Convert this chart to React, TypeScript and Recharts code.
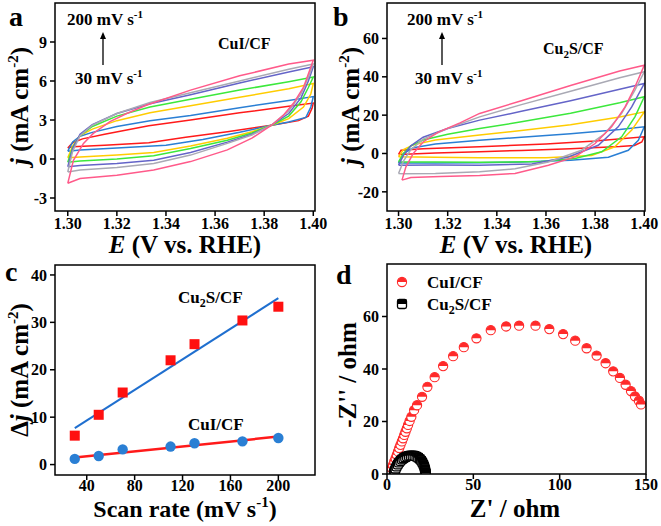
import { LineChart, Line, XAxis, YAxis, ComposedChart, Scatter, ScatterChart } from 'recharts';

const SERIF = '"Liberation Serif", "Times New Roman", serif';

// scan rates shared by all CV loops (mV/s), and their colours
const scanRates = [30, 50, 70, 110, 130, 170, 200];
const cvColors = ['#ff1a1a', '#2a7fd4', '#ffcc00', '#3ce83c', '#6464c8', '#a9a9b4', '#ff5a8a'];
const eTicks = [1.3, 1.32, 1.34, 1.36, 1.38, 1.4];

// panel a: CuI/CF cyclic voltammograms, [E, j] (forward sweep then return)
const cuiCv30 = [[1.3, 0.85], [1.302, 1.25], [1.306, 1.55], [1.315, 1.9], [1.333, 2.55], [1.35, 3.0], [1.37, 3.55], [1.39, 4.05], [1.4, 4.3], [1.3995, 3.9], [1.398, 3.3], [1.394, 2.95], [1.383, 2.6], [1.365, 2.1], [1.348, 1.67], [1.333, 1.25], [1.315, 1.05], [1.302, 0.95], [1.3, 0.85]];
const cuiCv50 = [[1.3, 0.6], [1.302, 1.3], [1.305, 1.75], [1.31, 2.05], [1.32, 2.5], [1.3335, 2.95], [1.35, 3.35], [1.37, 3.95], [1.39, 4.5], [1.4, 4.8], [1.399, 4.0], [1.397, 3.2], [1.39, 2.85], [1.383, 2.6], [1.37, 2.05], [1.355, 1.5], [1.34, 1.05], [1.32, 0.85], [1.305, 0.7], [1.3, 0.6]];
const cuiCv70 = [[1.3, 0.1], [1.302, 1.0], [1.305, 1.8], [1.31, 2.3], [1.32, 2.95], [1.3335, 3.56], [1.35, 4.1], [1.37, 4.75], [1.39, 5.4], [1.4, 5.8], [1.399, 5.0], [1.396, 4.0], [1.39, 3.1], [1.383, 2.6], [1.375, 2.1], [1.365, 1.6], [1.35, 1.0], [1.335, 0.5], [1.32, 0.3], [1.305, 0.15], [1.3, 0.1]];
const cuiCv110 = [[1.3, -0.25], [1.302, 0.9], [1.305, 1.8], [1.31, 2.5], [1.32, 3.3], [1.3335, 4.0], [1.35, 4.6], [1.37, 5.3], [1.39, 5.95], [1.4, 6.3], [1.398, 5.5], [1.395, 4.4], [1.39, 3.3], [1.383, 2.6], [1.375, 2.0], [1.365, 1.45], [1.35, 0.8], [1.335, 0.25], [1.32, 0.0], [1.305, -0.15], [1.3, -0.25]];
const cuiCv130 = [[1.3, -0.6], [1.302, 0.8], [1.305, 1.9], [1.31, 2.65], [1.32, 3.5], [1.3335, 4.25], [1.35, 4.95], [1.37, 5.85], [1.39, 6.7], [1.4, 7.1], [1.398, 6.0], [1.395, 4.7], [1.39, 3.5], [1.383, 2.6], [1.375, 1.9], [1.365, 1.3], [1.35, 0.5], [1.335, -0.1], [1.32, -0.35], [1.305, -0.5], [1.3, -0.6]];
const cuiCv170 = [[1.3, -1.0], [1.302, 0.6], [1.305, 1.8], [1.31, 2.6], [1.32, 3.5], [1.3335, 4.35], [1.35, 5.1], [1.37, 6.0], [1.39, 6.9], [1.4, 7.3], [1.398, 6.3], [1.395, 5.0], [1.39, 3.7], [1.383, 2.6], [1.375, 1.85], [1.365, 1.2], [1.35, 0.3], [1.335, -0.35], [1.32, -0.65], [1.305, -0.85], [1.3, -1.0]];
const cuiCv200 = [[1.3, -1.87], [1.3023, -0.1], [1.3064, 1.2], [1.3104, 1.97], [1.3172, 2.87], [1.324, 3.5], [1.3322, 4.15], [1.35, 5.3], [1.37, 6.4], [1.39, 7.3], [1.4, 7.6], [1.3985, 6.8], [1.396, 5.5], [1.392, 4.3], [1.388, 3.4], [1.383, 2.6], [1.375, 1.6], [1.365, 0.7], [1.35, -0.2], [1.335, -0.85], [1.32, -1.25], [1.305, -1.5], [1.3, -1.87]];

// panel b: Cu2S/CF cyclic voltammograms
const cusCv30 = [[1.3, -0.5], [1.301, 1.7], [1.31, 2.5], [1.333, 3.5], [1.36, 5.0], [1.38, 6.5], [1.4, 8.7], [1.399, 6.0], [1.396, 4.2], [1.39, 3.6], [1.37, 2.5], [1.35, 1.6], [1.333, 0.9], [1.315, 0.2], [1.3, -0.5]];
const cusCv50 = [[1.3, -5.0], [1.302, 0], [1.306, 3], [1.315, 5], [1.333, 6.9], [1.35, 8.5], [1.37, 10.3], [1.39, 12.5], [1.4, 13.9], [1.3976, 6.9], [1.3935, 1.7], [1.3854, -2.0], [1.37, -3.5], [1.35, -4.5], [1.333, -4.8], [1.315, -5.0], [1.3, -5.0]];
const cusCv70 = [[1.3, -1.7], [1.302, 2], [1.306, 4.5], [1.315, 7], [1.333, 9.6], [1.35, 12], [1.37, 15], [1.39, 19], [1.4, 21.7], [1.3949, 12.2], [1.388, 3.5], [1.3786, -1.0], [1.36, -2.2], [1.333, -2.2], [1.315, -2.0], [1.3, -1.7]];
const cusCv110 = [[1.3, -4.4], [1.302, 0], [1.305, 4], [1.31, 7], [1.32, 10], [1.333, 13], [1.35, 16.5], [1.37, 21], [1.39, 26.5], [1.4, 29.6], [1.3962, 19.1], [1.3908, 8.7], [1.3827, 0.9], [1.3718, -2.6], [1.358, -4.2], [1.333, -4.6], [1.315, -4.5], [1.3, -4.4]];
const cusCv130 = [[1.3, -6.1], [1.302, -1], [1.305, 4], [1.31, 8.5], [1.32, 13], [1.333, 17.4], [1.35, 22], [1.37, 27.5], [1.39, 33.5], [1.4, 36.5], [1.3949, 24.3], [1.3894, 13.9], [1.3813, 4.3], [1.3691, -1.8], [1.3542, -5.5], [1.333, -6.1], [1.315, -6.0], [1.3, -6.1]];
const cusCv170 = [[1.3, -10.4], [1.302, -4], [1.305, 2], [1.31, 7.5], [1.32, 13], [1.333, 19.1], [1.35, 25.5], [1.37, 32.5], [1.39, 39.5], [1.4, 42.6], [1.3962, 33], [1.3908, 20.9], [1.384, 10.4], [1.3745, 1.7], [1.361, -4.4], [1.3474, -8.0], [1.333, -9.5], [1.315, -10.4], [1.302, -10.6], [1.3, -10.4]];
const cusCv200 = [[1.3014, -13.9], [1.303, -7], [1.306, 0], [1.31, 6], [1.316, 11], [1.325, 16], [1.333, 20.9], [1.35, 27.5], [1.37, 35.5], [1.39, 43], [1.4, 46], [1.3962, 34.7], [1.3922, 24.3], [1.3867, 13.9], [1.38, 5.2], [1.3718, -1.8], [1.361, -6.1], [1.3474, -10.4], [1.333, -11.5], [1.317, -12], [1.305, -12.5], [1.3014, -13.9]];

// panel c: delta j vs scan rate
const cusDeltaJ = [6.1, 10.5, 15.2, 22.0, 25.4, 30.4, 33.3];
const cuiDeltaJ = [1.2, 1.8, 3.2, 3.8, 4.5, 4.9, 5.6];
const cusFit = [[30, 7.7], [200, 35.1]];
const cuiFit = [[30, 1.5], [200, 5.9]];

// panel d: Nyquist plots, [Z', -Z'']
const cuiEis = [[2.1, 1.0], [2.8, 2.2], [3.5, 3.5], [4.2, 4.8], [5.0, 6.0], [5.7, 7.3], [6.4, 8.6], [7.1, 9.9], [7.8, 11.1], [8.6, 12.4], [9.3, 13.6], [10.0, 14.9], [10.7, 16.1], [11.5, 17.4], [12.2, 18.7], [13.1, 20.2], [14.1, 21.8], [15.7, 24.3], [17.4, 26.2], [20.3, 29.4], [23.4, 33.2], [27.6, 36.9], [32.5, 41.1], [38.3, 44.9], [44.5, 48.3], [51.8, 51.7], [60.1, 54.8], [69, 56.2], [76.5, 56.5], [86, 56.5], [94, 55.2], [102, 53.3], [109, 50.8], [115.6, 47.9], [121.4, 45.1], [126.6, 42.2], [131, 39.1], [134.9, 36.6], [138.2, 34], [141.3, 31.6], [143.6, 29.6], [145.9, 27.9], [147.1, 26.5]];
const cusEis = [[4.0, 0.3], [4.5, 1.2], [5.0, 2.1], [5.6, 2.9], [6.3, 3.7], [7.0, 4.4], [7.8, 5.0], [8.7, 5.6], [9.6, 6.0], [10.6, 6.4], [11.6, 6.7], [12.7, 6.9], [13.8, 7.0], [14.9, 7.0], [16.0, 6.9], [17.1, 6.6], [18.1, 6.2], [19.0, 5.7], [19.8, 5.1], [20.5, 4.4], [21.1, 3.6], [21.6, 2.7], [22.0, 1.8], [22.3, 0.9], [22.5, 0.2]];

const tickStyle = { fontFamily: SERIF, fontWeight: 700, fontSize: 16, fill: '#000' };
const tickLine = { stroke: '#000', strokeWidth: 1.5 };

const toEj = (loop: number[][]) => loop.map(([E, j]) => ({ E, j }));
const toXY = (pts: number[][]) => pts.map(([x, y]) => ({ x, y }));

function CvPanel({ left, width, yWidth, mRight, xDomain, yDomain, yTicks, loops }: any) {
  return (
    <div style={{ position: 'absolute', left, top: 0 }}>
      <LineChart width={width} height={265} margin={{ top: 3, right: mRight, bottom: 0, left: 0 }}>
        <XAxis dataKey="E" type="number" domain={xDomain} ticks={eTicks} allowDataOverflow interval={0}
          tickFormatter={(v: number) => v.toFixed(2)} height={54} axisLine={false} tickLine={tickLine}
          tickSize={5} tickMargin={2} tick={tickStyle} />
        <YAxis type="number" domain={yDomain} ticks={yTicks} allowDataOverflow interval={0} width={yWidth}
          axisLine={false} tickLine={tickLine} tickSize={5} tickMargin={3} tick={tickStyle} />
        {loops.map((loop: number[][], i: number) => (
          <Line key={scanRates[i]} data={toEj(loop)} dataKey="j" type="linear" stroke={cvColors[i]}
            strokeWidth={1.5} dot={false} isAnimationActive={false} />
        ))}
      </LineChart>
    </div>
  );
}

const RedSquare = (p: any) => <rect x={p.cx - 5} y={p.cy - 5} width={10} height={10} fill="#ff1010" />;
const BlueDot = (p: any) => <circle cx={p.cx} cy={p.cy} r={5.2} fill="#2a7fd4" />;

const halfCircle = (color: string) => (p: any) => {
  const r = 4.6;
  return (
    <g>
      <circle cx={p.cx} cy={p.cy} r={r} fill="#fff" stroke={color} strokeWidth={1.1} />
      <path d={`M${p.cx - r},${p.cy} A${r},${r} 0 0 1 ${p.cx + r},${p.cy} Z`} fill={color} />
    </g>
  );
};
const halfSquare = (p: any) => (
  <g>
    <rect x={p.cx - 4.5} y={p.cy - 4.5} width={9} height={9} rx={1.8} fill="#fff" stroke="#000" strokeWidth={1.3} />
    <rect x={p.cx - 4.5} y={p.cy - 4.5} width={9} height={4.5} fill="#000" />
  </g>
);

function Arrow({ x, y1, y2 }: any) {
  return (
    <g>
      <line x1={x} y1={y1} x2={x} y2={y2 + 6} stroke="#000" strokeWidth={1.3} />
      <polygon points={`${x - 3},${y2 + 7} ${x + 3},${y2 + 7} ${x},${y2}`} fill="#000" />
    </g>
  );
}

// "(mA cm-2)" style units with a raised exponent and the closing bracket
function unitsTail(pre: string, exp: string) {
  return (
    <>
      {pre}
      <tspan dy={-10} fontSize={15}>{exp}</tspan>
      <tspan dy={10}>)</tspan>
    </>
  );
}

function Overlay() {
  const t = { fontFamily: SERIF, fontWeight: 700, fill: '#000' } as any;
  return (
    <svg width={661} height={526} style={{ position: 'absolute', left: 0, top: 0 }}>
      <rect x={55} y={3} width={260} height={208} fill="none" stroke="#000" strokeWidth={1.5} />
      <rect x={387} y={3} width={258} height={208} fill="none" stroke="#000" strokeWidth={1.5} />
      <rect x={55} y={265} width={260} height={210} fill="none" stroke="#000" strokeWidth={1.5} />
      <rect x={387} y={264} width={259} height={210} fill="none" stroke="#000" strokeWidth={1.5} />

      {/* panel a */}
      <text x={9} y={26} fontSize={28} {...t}>a</text>
      <text x={67} y={25} fontSize={17} {...t}>200 mV s<tspan dy={-7} fontSize={11}>-1</tspan></text>
      <Arrow x={103} y1={65} y2={32} />
      <text x={75} y={84} fontSize={17} {...t}>30 mV s<tspan dy={-7} fontSize={11}>-1</tspan></text>
      <text x={218} y={49} fontSize={16} {...t}>CuI/CF</text>
      <text x={185} y={253} fontSize={25} textAnchor="middle" {...t}>
        <tspan fontStyle="italic">E</tspan> (V vs. RHE)
      </text>
      <text transform="translate(28,106) rotate(-90)" fontSize={25} textAnchor="middle" {...t}>
        <tspan fontStyle="italic">j</tspan> {unitsTail('(mA cm', '-2')}
      </text>

      {/* panel b */}
      <text x={333} y={26} fontSize={28} {...t}>b</text>
      <text x={407} y={25} fontSize={17} {...t}>200 mV s<tspan dy={-7} fontSize={11}>-1</tspan></text>
      <Arrow x={442} y1={65} y2={32} />
      <text x={415} y={84} fontSize={17} {...t}>30 mV s<tspan dy={-7} fontSize={11}>-1</tspan></text>
      <text x={543} y={54} fontSize={16} {...t}>Cu<tspan dy={4} fontSize={11}>2</tspan><tspan dy={-4}>S/CF</tspan></text>
      <text x={516} y={253} fontSize={25} textAnchor="middle" {...t}>
        <tspan fontStyle="italic">E</tspan> (V vs. RHE)
      </text>
      <text transform="translate(359,106) rotate(-90)" fontSize={25} textAnchor="middle" {...t}>
        <tspan fontStyle="italic">j</tspan> {unitsTail('(mA cm', '-2')}
      </text>

      {/* panel c */}
      <text x={5} y={281} fontSize={28} {...t}>c</text>
      <text x={178} y={303} fontSize={17} {...t}>Cu<tspan dy={4} fontSize={12}>2</tspan><tspan dy={-4}>S/CF</tspan></text>
      <text x={188} y={430} fontSize={17} {...t}>CuI/CF</text>
      <text x={185} y={517} fontSize={24} textAnchor="middle" {...t}>
        {unitsTail('Scan rate (mV s', '-1')}
      </text>
      <text transform="translate(28,370) rotate(-90)" fontSize={25} textAnchor="middle" {...t}>
        Δ<tspan fontStyle="italic">j</tspan> {unitsTail('(mA cm', '-2')}
      </text>

      {/* panel d */}
      <text x={336} y={284} fontSize={28} {...t}>d</text>
      {halfCircle('#ff2a2a')({ cx: 402, cy: 282 })}
      <text x={427} y={288} fontSize={17} {...t}>CuI/CF</text>
      {halfSquare({ cx: 402, cy: 304 })}
      <text x={427} y={310} fontSize={17} {...t}>Cu<tspan dy={4} fontSize={12}>2</tspan><tspan dy={-4}>S/CF</tspan></text>
      <text x={515} y={517} fontSize={25} textAnchor="middle" {...t}>Z' / ohm</text>
      <text transform="translate(356,375) rotate(-90)" fontSize={25} textAnchor="middle" {...t}>-Z'' / ohm</text>
    </svg>
  );
}

export default function App() {
  const cusPts = scanRates.map((x, i) => ({ x, y: cusDeltaJ[i] }));
  const cuiPts = scanRates.map((x, i) => ({ x, y: cuiDeltaJ[i] }));
  return (
    <div style={{ position: 'absolute', left: 0, top: 0, width: 661, height: 526, background: '#fff', overflow: 'hidden' }}>
      <CvPanel left={0} width={330} yWidth={55} mRight={15} xDomain={[1.2948, 1.4007]} yDomain={[-4, 12]}
        yTicks={[-3, 0, 3, 6, 9]} loops={[cuiCv30, cuiCv50, cuiCv70, cuiCv110, cuiCv130, cuiCv170, cuiCv200]} />
      <CvPanel left={330} width={331} yWidth={57} mRight={16} xDomain={[1.2953, 1.4003]} yDomain={[-30, 78.5]}
        yTicks={[-20, 0, 20, 40, 60]} loops={[cusCv30, cusCv50, cusCv70, cusCv110, cusCv130, cusCv170, cusCv200]} />

      <div style={{ position: 'absolute', left: 0, top: 265 }}>
        <ComposedChart width={330} height={261} margin={{ top: 0, right: 15, bottom: 0, left: 0 }}>
          <XAxis dataKey="x" type="number" domain={[13.5, 230.6]} ticks={[40, 80, 120, 160, 200]} allowDataOverflow
            interval={0} height={51} axisLine={false} tickLine={tickLine} tickSize={5} tickMargin={0} tick={tickStyle} />
          <YAxis dataKey="y" type="number" domain={[-2.2, 42.1]} ticks={[0, 10, 20, 30, 40]} allowDataOverflow
            interval={0} width={55} axisLine={false} tickLine={tickLine} tickSize={5} tickMargin={3} tick={tickStyle} />
          <Line data={toXY(cusFit)} dataKey="y" type="linear" stroke="#1f6fcf" strokeWidth={2} dot={false} isAnimationActive={false} />
          <Line data={toXY(cuiFit)} dataKey="y" type="linear" stroke="#ff1a1a" strokeWidth={2.5} dot={false} isAnimationActive={false} />
          <Scatter data={cusPts} dataKey="y" shape={RedSquare} isAnimationActive={false} />
          <Scatter data={cuiPts} dataKey="y" shape={BlueDot} isAnimationActive={false} />
        </ComposedChart>
      </div>

      <div style={{ position: 'absolute', left: 330, top: 262 }}>
        <ScatterChart width={331} height={264} margin={{ top: 2, right: 15, bottom: 0, left: 0 }}>
          <XAxis dataKey="x" type="number" domain={[0, 150]} ticks={[0, 50, 100, 150]} allowDataOverflow
            interval={0} height={52} axisLine={false} tickLine={tickLine} tickSize={5} tickMargin={0} tick={tickStyle} />
          <YAxis dataKey="y" type="number" domain={[0, 80]} ticks={[0, 20, 40, 60]} allowDataOverflow
            interval={0} width={57} axisLine={false} tickLine={tickLine} tickSize={5} tickMargin={3} tick={tickStyle} />
          <Scatter data={toXY(cuiEis)} shape={halfCircle('#ff2a2a')} isAnimationActive={false} />
          <Scatter data={toXY(cusEis)} shape={halfSquare} isAnimationActive={false} />
        </ScatterChart>
      </div>

      <Overlay />
    </div>
  );
}
